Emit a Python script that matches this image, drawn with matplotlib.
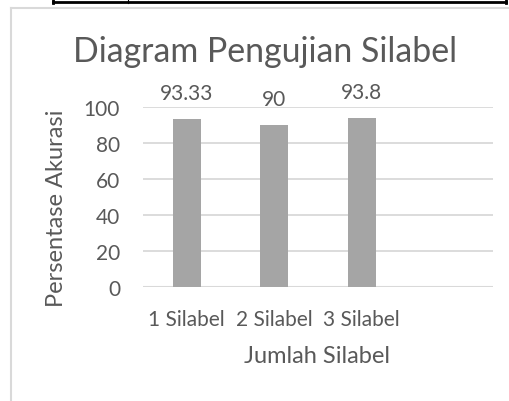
import matplotlib
matplotlib.use("Agg")
import matplotlib.pyplot as plt
from matplotlib.lines import Line2D

categories = ["1 Silabel", "2 Silabel", "3 Silabel", ""]
values = [93.33, 90, 93.8, None]
value_labels = ["93.33", "90", "93.8"]
yticks = [0, 20, 40, 60, 80, 100]

plt.rcParams['font.family'] = ['Lato', 'DejaVu Sans']
TXT = '#595959'

W, H = 510, 402
fig = plt.figure(figsize=(W/100, H/100), dpi=100)
fig.patch.set_facecolor('white')

# outer frame lines (page artefacts)
fig.add_artist(Line2D([11/W, 11/W], [0, 1 - 9/H], color='#d9d9d9', lw=1.5, transform=fig.transFigure))
fig.add_artist(Line2D([11/W, 1], [1 - 9/H, 1 - 9/H], color='#d9d9d9', lw=1.5, transform=fig.transFigure))
fig.add_artist(Line2D([53/W, 53/W], [1 - 4/H, 1], color='black', lw=2, transform=fig.transFigure))
fig.add_artist(Line2D([506/W, 506/W], [1 - 4/H, 1], color='black', lw=2, transform=fig.transFigure))
fig.add_artist(Line2D([53/W, 506/W], [1 - 3/H, 1 - 3/H], color='black', lw=2, transform=fig.transFigure))
fig.add_artist(Line2D([128/W, 128/W], [1 - 4/H, 1], color='black', lw=0.8, transform=fig.transFigure))

x0, x1 = 143, 493
y0, y1 = 288, 108
ax = fig.add_axes([x0/W, 1 - y0/H, (x1 - x0)/W, (y0 - y1)/H])
ax.set_facecolor('none')

xs = list(range(len(categories)))
bx = [i for i, v in enumerate(values) if v is not None]
bv = [v for v in values if v is not None]
bars = ax.bar(bx, bv, width=0.32, color='#a5a5a5', zorder=3)
for b, lab in zip(bars, value_labels):
    ax.annotate(lab, (b.get_x() + b.get_width()/2, b.get_height()),
                xytext=(0, 14.4), textcoords='offset points',
                ha='center', va='baseline', fontsize=15, color=TXT)

ax.set_xlim(-0.5, len(categories) - 0.5)
ax.set_ylim(0, 100)
ax.set_yticks(yticks)
ax.set_yticklabels([str(t) for t in yticks], fontsize=15, color=TXT)
ax.set_xticks(xs)
ax.set_xticklabels(categories, fontsize=15, color=TXT)
ax.tick_params(axis='both', length=0)
ax.tick_params(axis='y', pad=16.5)
ax.tick_params(axis='x', pad=16)
ax.grid(axis='y', color='#d9d9d9', lw=1.3, zorder=0)
for s in ax.spines.values():
    s.set_visible(False)
ax.axhline(0, color='#d9d9d9', lw=1.5, zorder=2)

fig.text(265.5/W, 1 - 62/H, "Diagram Pengujian Silabel", ha='center', va='baseline', fontsize=24.4, color=TXT)
fig.text(316.5/W, 1 - 363/H, "Jumlah Silabel", ha='center', va='baseline', fontsize=17, color=TXT)
fig.text(63/W, 1 - 208/H, "Persentase Akurasi", ha='center', va='baseline', rotation=90,
         rotation_mode='anchor', fontsize=17, color=TXT)

fig.savefig("out.png", dpi=100)
